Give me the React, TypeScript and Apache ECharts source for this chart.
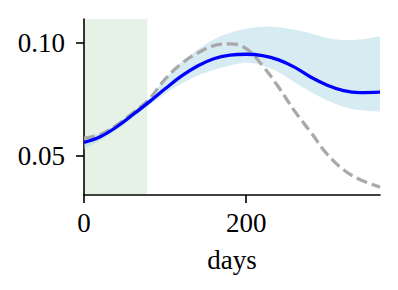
import React, { useEffect, useRef } from "react";
import * as echarts from "echarts";

const days = [0, 20, 40, 60, 80, 100, 120, 140, 160, 180, 200, 220, 240, 260, 280, 300, 320, 340, 365];
const meanValues = [0.0560, 0.0585, 0.0628, 0.0682, 0.0738, 0.0797, 0.0853, 0.0898, 0.0930, 0.0946, 0.0950, 0.0944, 0.0925, 0.0892, 0.0848, 0.0813, 0.0789, 0.0780, 0.0782];
const upperValues = [0.0585, 0.0600, 0.0640, 0.0695, 0.0755, 0.0840, 0.0915, 0.0970, 0.1015, 0.1045, 0.1063, 0.1072, 0.1070, 0.1058, 0.1042, 0.1022, 0.1013, 0.1015, 0.1030];
const lowerValues = [0.0530, 0.0568, 0.0615, 0.0668, 0.0722, 0.0775, 0.0820, 0.0855, 0.0880, 0.0900, 0.0912, 0.0900, 0.0870, 0.0825, 0.0783, 0.0745, 0.0718, 0.0703, 0.0696];
const trueValues = [0.0578, 0.0595, 0.0635, 0.0690, 0.0750, 0.0840, 0.0908, 0.0955, 0.0988, 0.0996, 0.0975, 0.0900, 0.0804, 0.0697, 0.0603, 0.0507, 0.0439, 0.0396, 0.0362];
const shadedRange = [0, 78];
const xTicks = [0, 200];
const yTicks = [0.05, 0.1];
const xLabel = "days";

const FONT = "Liberation Serif";

export default function App() {
  const ref = useRef<HTMLDivElement>(null);
  useEffect(() => {
    const chart = echarts.init(ref.current!, null, { renderer: "svg" });
    const pairs = (vals: number[]) => days.map((d, i) => [d, vals[i]]);
    const bandData = days.map((d, i) => [d, lowerValues[i], upperValues[i]]);
    chart.setOption({
      animation: false,
      grid: { left: 84, top: 19, right: 18, bottom: 95, containLabel: false },
      xAxis: {
        type: "value",
        min: 0,
        max: 365,
        name: xLabel,
        nameLocation: "middle",
        nameGap: 51,
        nameTextStyle: { fontFamily: FONT, fontSize: 27, color: "#000" },
        splitLine: { show: false },
        axisLine: { show: true, lineStyle: { color: "#000", width: 1.6 } },
        axisTick: { show: true, customValues: xTicks, length: 8, lineStyle: { color: "#000", width: 1.6 } },
        axisLabel: {
          customValues: xTicks,
          fontFamily: FONT,
          fontSize: 27,
          color: "#000",
          margin: 14,
          formatter: (v: number) => String(v),
        },
      },
      yAxis: {
        type: "value",
        min: 0.0327,
        max: 0.1106,
        splitLine: { show: false },
        axisLine: { show: true, lineStyle: { color: "#000", width: 1.6 } },
        axisTick: { show: true, customValues: yTicks, length: 8, lineStyle: { color: "#000", width: 1.6 } },
        axisLabel: {
          customValues: yTicks,
          fontFamily: FONT,
          fontSize: 27,
          color: "#000",
          margin: 19,
          formatter: (v: number) => v.toFixed(2),
        },
      },
      series: [
        {
          type: "custom",
          data: bandData,
          clip: true,
          z: 2,
          silent: true,
          markArea: {
            silent: true,
            itemStyle: { color: "rgba(0,128,0,0.1)" },
            data: [[{ xAxis: shadedRange[0] }, { xAxis: shadedRange[1] }]],
          },
          renderItem: (params: any, api: any) => {
            if (params.dataIndex !== 0) return null;
            const up = bandData.map((p) => api.coord([p[0], p[2]]));
            const lo = bandData.map((p) => api.coord([p[0], p[1]])).reverse();
            const pts = [up[0], ...up, up[up.length - 1], lo[0], ...lo, lo[lo.length - 1]];
            return {
              type: "polygon",
              shape: { points: pts, smooth: 0.35 },
              style: { fill: "rgba(173,216,230,0.5)", stroke: "none" },
            };
          },
        },
        {
          type: "line",
          data: pairs(trueValues),
          smooth: 0.4,
          symbol: "none",
          lineStyle: { color: "#a9a9a9", width: 3.3, type: [11, 5], cap: "butt" },
          z: 3,
        },
        {
          type: "line",
          data: pairs(meanValues),
          smooth: 0.4,
          symbol: "none",
          lineStyle: { color: "#0000ff", width: 3.3 },
          z: 4,
        },
      ],
    });
    return () => chart.dispose();
  }, []);
  return <div ref={ref} style={{ width: 398, height: 290, position: "absolute", left: 0, top: 0 }} />;
}
